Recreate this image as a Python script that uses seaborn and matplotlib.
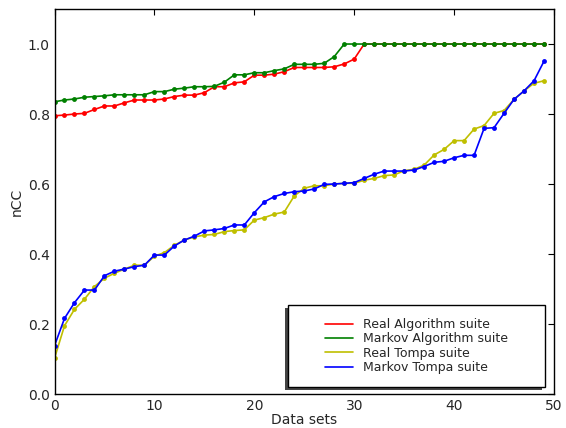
import matplotlib
matplotlib.use('Agg')
import matplotlib.pyplot as plt
from matplotlib.lines import Line2D
from matplotlib.patches import Rectangle
import pandas as pd
import seaborn as sns

# Data
data_sets = list(range(50))

real_algorithm = [0.795, 0.797, 0.800, 0.802, 0.813, 0.823, 0.823, 0.832, 0.840, 0.840,
                  0.840, 0.843, 0.850, 0.854, 0.854, 0.861, 0.878, 0.878, 0.889, 0.892,
                  0.911, 0.911, 0.914, 0.921, 0.933, 0.933, 0.933, 0.933, 0.935, 0.943,
                  0.957, 1.0, 1.0, 1.0, 1.0, 1.0, 1.0, 1.0, 1.0, 1.0,
                  1.0, 1.0, 1.0, 1.0, 1.0, 1.0, 1.0, 1.0, 1.0, 1.0]

markov_algorithm = [0.835, 0.840, 0.843, 0.848, 0.850, 0.852, 0.855, 0.855, 0.855, 0.855,
                    0.864, 0.864, 0.871, 0.874, 0.878, 0.878, 0.879, 0.891, 0.912, 0.912,
                    0.918, 0.918, 0.924, 0.929, 0.942, 0.942, 0.942, 0.945, 0.964, 1.0,
                    1.0, 1.0, 1.0, 1.0, 1.0, 1.0, 1.0, 1.0, 1.0, 1.0,
                    1.0, 1.0, 1.0, 1.0, 1.0, 1.0, 1.0, 1.0, 1.0, 1.0]

real_tompa = [0.102, 0.195, 0.242, 0.271, 0.307, 0.331, 0.345, 0.357, 0.368, 0.368,
              0.394, 0.404, 0.425, 0.440, 0.449, 0.454, 0.456, 0.464, 0.467, 0.469,
              0.497, 0.504, 0.514, 0.520, 0.566, 0.588, 0.595, 0.595, 0.600, 0.602,
              0.602, 0.611, 0.616, 0.624, 0.626, 0.638, 0.642, 0.654, 0.683, 0.699,
              0.724, 0.724, 0.757, 0.767, 0.802, 0.810, 0.842, 0.866, 0.888, 0.895]

markov_tompa = [0.138, 0.216, 0.261, 0.297, 0.297, 0.338, 0.351, 0.357, 0.364, 0.368,
                0.397, 0.397, 0.423, 0.440, 0.451, 0.466, 0.469, 0.473, 0.483, 0.483,
                0.518, 0.549, 0.564, 0.573, 0.578, 0.580, 0.586, 0.599, 0.600, 0.602,
                0.604, 0.616, 0.628, 0.637, 0.637, 0.637, 0.640, 0.650, 0.662, 0.665,
                0.675, 0.682, 0.682, 0.759, 0.761, 0.802, 0.842, 0.866, 0.895, 0.951]

labels = ['Real Algorithm suite', 'Markov Algorithm suite', 'Real Tompa suite', 'Markov Tompa suite']
colors = ['#ff0000', '#008000', '#bfbf00', '#0000ff']

# Long table for seaborn
df = pd.concat([
    pd.DataFrame({'x': data_sets, 'nCC': vals, 'suite': lab})
    for vals, lab in zip([real_algorithm, markov_algorithm, real_tompa, markov_tompa], labels)
])

sns.set_style('white')
plt.rcParams['font.family'] = ['DejaVu Sans']

fig = plt.figure(figsize=(5.66, 4.28), dpi=100)
ax = fig.add_axes([0.0963, 0.0794, 0.8825, 0.8995])

sns.lineplot(data=df, x='x', y='nCC', hue='suite', hue_order=labels,
             palette=dict(zip(labels, colors)), marker='o', markersize=3.5,
             markeredgewidth=0, linewidth=1.2, legend=False, ax=ax)

ax.set_xlim(0, 50)
ax.set_ylim(0, 1.1)
ax.set_xticks(range(0, 51, 10))
ax.set_yticks([0.0, 0.2, 0.4, 0.6, 0.8, 1.0])
ax.set_yticklabels(['0.0', '0.2', '0.4', '0.6', '0.8', '1.0'])
ax.tick_params(direction='in', length=4, top=True, right=True, labelsize=10, color='black')
for s in ax.spines.values():
    s.set_color('black')
    s.set_linewidth(1.0)
ax.set_xlabel('Data sets', fontsize=10, labelpad=0)
ax.set_ylabel('nCC', fontsize=10, labelpad=3)

# Legend box with shadow, as in the old matplotlib style
bx, by, bw, bh = 0.467, 0.018, 0.515, 0.213
ax.add_patch(Rectangle((bx - 0.006, by - 0.008), bw, bh, transform=ax.transAxes,
                       facecolor='#444444', edgecolor='none', zorder=5))
ax.add_patch(Rectangle((bx, by), bw, bh, transform=ax.transAxes,
                       facecolor='white', edgecolor='black', linewidth=1.0, zorder=6))
handles = [Line2D([], [], color=c, linewidth=1.2) for c in colors]
leg = ax.legend(handles, labels, loc='center', bbox_to_anchor=(bx + bw / 2, by + bh / 2),
                frameon=False, fontsize=9, handlelength=2.2, handletextpad=0.8,
                labelspacing=0.1)
leg.set_zorder(7)

fig.savefig('out.png', dpi=100)
